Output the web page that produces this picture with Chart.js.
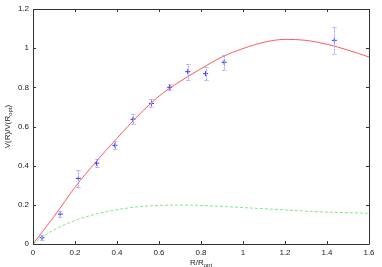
<!DOCTYPE html>
<html>
<head>
<meta charset="utf-8">
<script src="https://cdn.jsdelivr.net/npm/chart.js@4.4.1/dist/chart.umd.min.js"></script>
<style>
  html, body { margin: 0; padding: 0; background: #fff; }
  #wrap { width: 382px; height: 267px; }
</style>
</head>
<body>
<div id="wrap"><canvas id="rc"></canvas></div>
<script>
// observed points (R/Ropt, V/Vopt, error)
const obsR   = [0.043, 0.13, 0.216, 0.303, 0.39, 0.476, 0.564, 0.651, 0.737, 0.822, 0.91, 1.435];
const obsV   = [0.032, 0.153, 0.335, 0.412, 0.504, 0.637, 0.718, 0.80, 0.88, 0.87, 0.928, 1.04];
const obsErr = [0.012, 0.015, 0.045, 0.02, 0.02, 0.025, 0.02, 0.015, 0.04, 0.034, 0.037, 0.068];

// model curves
const modelR = [0, 0.05, 0.1, 0.2, 0.3, 0.4, 0.5, 0.6, 0.7, 0.8, 0.9, 1.0, 1.1, 1.2, 1.3, 1.4, 1.5, 1.6];
const totalV = [0, 0.07, 0.14, 0.29, 0.42, 0.54, 0.655, 0.755, 0.83, 0.895, 0.955, 0.998, 1.03, 1.045, 1.04, 1.02, 0.99, 0.955];
const diskV  = [0, 0.04, 0.072, 0.12, 0.153, 0.175, 0.19, 0.197, 0.199, 0.197, 0.192, 0.186, 0.18, 0.174, 0.168, 0.163, 0.16, 0.157];

const xTicks = [0, 0.2, 0.4, 0.6, 0.8, 1, 1.2, 1.4, 1.6];
const yTicks = [0, 0.2, 0.4, 0.6, 0.8, 1, 1.2];

const FONT = '"Liberation Sans", Arial, sans-serif';

const pts = (xs, ys) => xs.map((x, i) => ({ x: x, y: ys[i] }));

// error bars, inward ticks, tick labels, axis titles
const gnuplotBits = {
  id: 'gnuplotBits',
  afterDatasetsDraw(chart) {
    const ctx = chart.ctx, xs = chart.scales.x, ys = chart.scales.y;
    ctx.save();
    ctx.strokeStyle = '#a0a0ff';
    ctx.lineWidth = 1;
    ctx.setLineDash([2, 1]);
    obsR.forEach((r, i) => {
      const px = Math.round(xs.getPixelForValue(r)) + 0.5;
      const y1 = ys.getPixelForValue(obsV[i] - obsErr[i]);
      const y2 = ys.getPixelForValue(obsV[i] + obsErr[i]);
      ctx.beginPath();
      ctx.moveTo(px, y1); ctx.lineTo(px, y2);
      ctx.moveTo(px - 2, Math.round(y1) + 0.5); ctx.lineTo(px + 2, Math.round(y1) + 0.5);
      ctx.moveTo(px - 2, Math.round(y2) + 0.5); ctx.lineTo(px + 2, Math.round(y2) + 0.5);
      ctx.stroke();
    });
    ctx.restore();
  },
  afterDraw(chart) {
    const ctx = chart.ctx, a = chart.chartArea, xs = chart.scales.x, ys = chart.scales.y;
    ctx.save();
    ctx.strokeStyle = '#333';
    ctx.lineWidth = 1;
    ctx.beginPath();
    ctx.rect(Math.round(a.left) + 0.5, Math.round(a.top) + 0.5, Math.round(a.right - a.left), Math.round(a.bottom - a.top));
    ctx.stroke();
    ctx.beginPath();
    xTicks.forEach(v => {
      const px = Math.round(xs.getPixelForValue(v)) + 0.5;
      ctx.moveTo(px, a.bottom); ctx.lineTo(px, a.bottom - 3);
      ctx.moveTo(px, a.top); ctx.lineTo(px, a.top + 3);
    });
    yTicks.forEach(v => {
      const py = Math.round(ys.getPixelForValue(v)) + 0.5;
      ctx.moveTo(a.left, py); ctx.lineTo(a.left + 3, py);
      ctx.moveTo(a.right, py); ctx.lineTo(a.right - 3, py);
    });
    ctx.stroke();

    // tick labels
    ctx.fillStyle = '#222';
    ctx.font = '8px ' + FONT;
    ctx.textBaseline = 'middle';
    ctx.textAlign = 'center';
    xTicks.forEach(v => ctx.fillText(String(v), xs.getPixelForValue(v), a.bottom + 8.5));
    ctx.textAlign = 'right';
    yTicks.forEach(v => ctx.fillText(String(v), a.left - 4, ys.getPixelForValue(v)));

    // axis titles with subscripts
    ctx.textBaseline = 'alphabetic';
    const sub = (main, low, after, x, y) => {
      ctx.font = '8px ' + FONT;
      const w1 = ctx.measureText(main).width;
      ctx.font = '6px ' + FONT;
      const w2 = ctx.measureText(low).width;
      ctx.font = '8px ' + FONT;
      const w3 = ctx.measureText(after).width;
      let sx = x - (w1 + w2 + w3) / 2;
      ctx.textAlign = 'left';
      ctx.fillText(main, sx, y);
      ctx.font = '6px ' + FONT;
      ctx.fillText(low, sx + w1, y + 2);
      ctx.font = '8px ' + FONT;
      ctx.fillText(after, sx + w1 + w2, y);
    };
    sub('R/R', 'opt', '', (a.left + a.right) / 2, 265);
    ctx.translate(10, (a.top + a.bottom) / 2);
    ctx.rotate(-Math.PI / 2);
    sub('V(R)/V(R', 'opt', ')', 0, 0);
    ctx.restore();
  }
};

new Chart(document.getElementById('rc'), {
  type: 'scatter',
  data: {
    datasets: [
      {
        label: 'total',
        type: 'line',
        data: pts(modelR, totalV),
        borderColor: '#ff5a5a',
        borderWidth: 1,
        pointRadius: 0,
        cubicInterpolationMode: 'monotone',
        fill: false
      },
      {
        label: 'disk',
        type: 'line',
        data: pts(modelR, diskV),
        borderColor: '#78ee78',
        borderWidth: 1,
        borderDash: [3, 2],
        pointRadius: 0,
        cubicInterpolationMode: 'monotone',
        fill: false
      },
      {
        label: 'data',
        data: pts(obsR, obsV),
        pointStyle: 'cross',
        pointRadius: 2.5,
        borderColor: '#3030ff',
        borderWidth: 1
      }
    ]
  },
  options: {
    responsive: true,
    maintainAspectRatio: false,
    animation: false,
    layout: { padding: { left: 0, top: 9, right: 13, bottom: 0 } },
    plugins: { legend: { display: false }, tooltip: { enabled: false } },
    scales: {
      x: {
        type: 'linear',
        min: 0, max: 1.6,
        afterBuildTicks: s => { s.ticks = xTicks.map(v => ({ value: v })); },
        afterFit: s => { s.height = 23; },
        grid: { display: false, drawTicks: false },
        border: { display: false },
        ticks: { display: false }
      },
      y: {
        type: 'linear',
        min: 0, max: 1.2,
        afterBuildTicks: s => { s.ticks = yTicks.map(v => ({ value: v })); },
        afterFit: s => { s.width = 33; },
        grid: { display: false, drawTicks: false },
        border: { display: false },
        ticks: { display: false }
      }
    }
  },
  plugins: [gnuplotBits]
});
</script>
</body>
</html>
